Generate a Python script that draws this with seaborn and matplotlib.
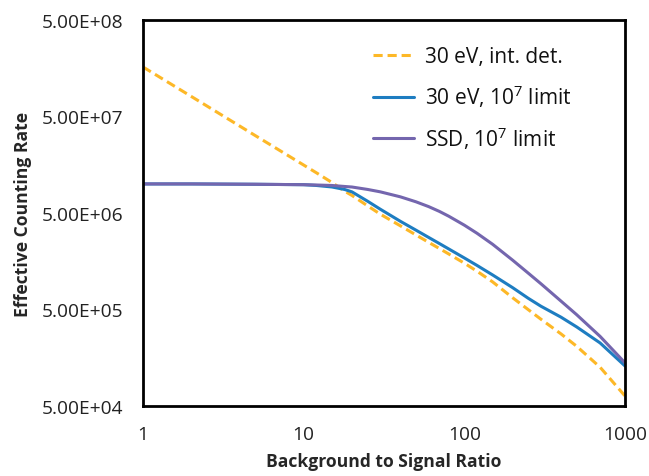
#!/usr/bin/env python3
"""
Effective counting rate vs background-to-signal ratio (log-log)
"""

import pandas as pd
import numpy as np
import matplotlib
matplotlib.use('Agg')
import matplotlib.pyplot as plt
import matplotlib.ticker as mticker
import seaborn as sns

# Data
ratio = [1, 2, 5, 10, 12, 15, 18, 20, 25, 30, 40, 50, 60, 70, 80,
         100, 120, 150, 200, 250, 300, 400, 500, 700, 1000]
rate_30ev_int = [1.63e8, 8.06e7, 3.17e7, 1.57e7, 1.305e7, 1.035e7, 8.41e6, 7.59e6, 5.93e6, 4.86e6,
                 3.68e6, 2.96e6, 2.48e6, 2.14e6, 1.88e6,
                 1.51e6, 1.245e6, 9.66e5, 6.61e5, 4.98e5, 3.96e5, 2.79e5, 2.08e5, 1.26e5, 6.35e4]
rate_30ev_lim = [1.0e7, 1.0e7, 9.92e6, 9.82e6, 9.64e6, 9.30e6, 8.76e6, 8.27e6, 6.62e6, 5.47e6,
                 4.10e6, 3.32e6, 2.79e6, 2.41e6, 2.12e6,
                 1.71e6, 1.43e6, 1.14e6, 8.41e5, 6.53e5, 5.40e5, 4.16e5, 3.30e5, 2.25e5, 1.30e5]
rate_ssd_lim = [1.0e7, 1.0e7, 9.92e6, 9.82e6, 9.75e6, 9.64e6, 9.41e6, 9.29e6, 8.77e6, 8.28e6,
                7.35e6, 6.53e6, 5.82e6, 5.19e6, 4.63e6,
                3.74e6, 3.08e6, 2.37e6, 1.62e6, 1.19e6, 9.23e5, 6.10e5, 4.42e5, 2.63e5, 1.40e5]

series_names = ['30 eV, int. det.', r'30 eV, 10$^{\mathregular{7}}$ limit', r'SSD, 10$^{\mathregular{7}}$ limit']
series_colors = ['#FDB827', '#1E7DC1', '#7466AE']

df = pd.concat([
    pd.DataFrame({'ratio': ratio, 'rate': vals, 'series': name})
    for name, vals in zip(series_names, [rate_30ev_int, rate_30ev_lim, rate_ssd_lim])
], ignore_index=True)

sns.set_style('white')
plt.rcParams['font.family'] = ['Open Sans', 'DejaVu Sans']
plt.rcParams['mathtext.fontset'] = 'custom'
plt.rcParams['mathtext.rm'] = 'Open Sans'

fig = plt.figure(figsize=(6.49, 4.77), dpi=100)
ax = fig.add_axes([0.2203, 0.1468, 0.7427, 0.8092])

sns.lineplot(data=df, x='ratio', y='rate', hue='series', style='series',
             hue_order=series_names, style_order=series_names,
             palette=dict(zip(series_names, series_colors)),
             dashes={series_names[0]: (3, 1.6), series_names[1]: '', series_names[2]: ''},
             linewidth=2.2, ax=ax)

ax.set_xscale('log')
ax.set_yscale('log')
ax.set_xlim(1, 1000)
ax.set_ylim(5e4, 5e8)

ax.xaxis.set_major_locator(mticker.FixedLocator([1, 10, 100, 1000]))
ax.xaxis.set_major_formatter(mticker.FixedFormatter(['1', '10', '100', '1000']))
ax.xaxis.set_minor_locator(mticker.NullLocator())
yt = [5e4, 5e5, 5e6, 5e7, 5e8]
ax.yaxis.set_major_locator(mticker.FixedLocator(yt))
ax.yaxis.set_major_formatter(mticker.FixedFormatter(['5.00E+04', '5.00E+05', '5.00E+06', '5.00E+07', '5.00E+08']))
ax.yaxis.set_minor_locator(mticker.NullLocator())

ax.tick_params(axis='both', direction='in', length=6, width=2, color='black',
               labelsize=13.8, labelcolor='#222222')
ax.tick_params(axis='x', pad=14)
ax.tick_params(axis='y', pad=14)

for sp in ax.spines.values():
    sp.set_visible(True)
    sp.set_color('black')
    sp.set_linewidth(2)

ax.set_xlabel('Background to Signal Ratio', fontsize=12.6, fontweight='bold', labelpad=6)
ax.set_ylabel('Effective Counting Rate', fontsize=12.6, fontweight='bold', labelpad=7)

leg = ax.legend(loc='upper right', frameon=False, fontsize=15, handlelength=1.95,
                handletextpad=0.55, labelspacing=0.72, borderpad=0.3,
                bbox_to_anchor=(0.925, 0.975))
for t in leg.get_texts():
    t.set_color('#111111')

plt.savefig('out.png', dpi=100)
plt.close()
